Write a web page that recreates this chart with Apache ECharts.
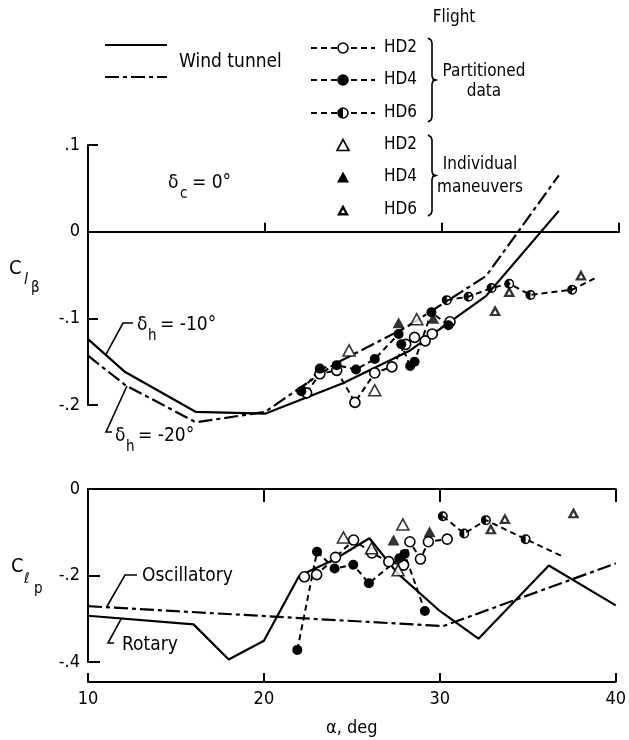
<!DOCTYPE html>
<html>
<head>
<meta charset="utf-8">
<script src="https://cdn.jsdelivr.net/npm/echarts@6/dist/echarts.min.js"></script>
<style>
  html, body { margin: 0; padding: 0; background: #fff; }
  #chart { width: 629px; height: 740px; }
</style>
</head>
<body>
<div id="chart"></div>
<script>
// ---- axes ----
var alphaTicks = [10, 20, 30, 40];
var clbTicks = [-0.2, -0.1, 0, 0.1];
var clbTickLabels = ['-.2', '-.1', '0', '.1'];
var clpTicks = [-0.4, -0.2, 0];
var clpTickLabels = ['-.4', '-.2', '0'];

// ---- wind tunnel, C_l_beta ----
var wtAlphaM10 = [10, 12.1, 16.1, 20, 24.4, 28.2, 32.5, 36.6];
var wtClbM10   = [-0.124, -0.162, -0.208, -0.210, -0.175, -0.137, -0.074, 0.024];
var wtAlphaM20 = [10, 12.1, 16.1, 20, 24, 28, 32.5, 36.6];
var wtClbM20   = [-0.143, -0.177, -0.220, -0.208, -0.152, -0.110, -0.051, 0.065];

// ---- flight, partitioned data, C_l_beta ----
var hd2BetaAlpha = [22.35, 23.1, 24.05, 25.08, 26.2, 27.17, 27.95, 28.45, 29.05, 29.45, 30.45];
var hd2BetaCl    = [-0.186, -0.164, -0.160, -0.197, -0.163, -0.156, -0.130, -0.122, -0.126, -0.118, -0.104];
var hd4BetaAlpha = [22.05, 23.1, 24.05, 25.14, 26.2, 27.55, 27.7, 28.2, 28.45, 29.4, 30.36];
var hd4BetaCl    = [-0.184, -0.158, -0.154, -0.159, -0.147, -0.118, -0.130, -0.155, -0.150, -0.093, -0.108];
var hd6BetaAlpha = [30.27, 31.5, 32.8, 33.8, 35.0, 37.35, 38.8];
var hd6BetaCl    = [-0.079, -0.075, -0.065, -0.060, -0.073, -0.067, -0.052];

// ---- flight, individual maneuvers, C_l_beta ----
var ind2BetaAlpha = [24.75, 26.2, 28.57];
var ind2BetaCl    = [-0.137, -0.183, -0.101];
var ind4BetaAlpha = [27.55, 29.5];
var ind4BetaCl    = [-0.105, -0.100];
var ind6BetaAlpha = [33.0, 33.8, 37.85];
var ind6BetaCl    = [-0.091, -0.069, -0.050];

// ---- wind tunnel, C_l_p ----
var oscAlpha = [10, 30.2, 40];
var oscClp   = [-0.271, -0.317, -0.172];
var rotAlpha = [10, 16, 18, 20, 22, 24, 26, 27.6, 30, 32.2, 36.2, 40];
var rotClp   = [-0.293, -0.313, -0.394, -0.351, -0.201, -0.163, -0.114, -0.195, -0.282, -0.346, -0.177, -0.269];

// ---- flight, partitioned data, C_l_p ----
var hd2PAlpha = [22.3, 23.0, 24.07, 25.1, 26.14, 27.1, 27.94, 28.3, 28.9, 29.35, 30.42];
var hd2PCl    = [-0.203, -0.198, -0.158, -0.118, -0.148, -0.168, -0.176, -0.122, -0.162, -0.122, -0.116];
var hd4PAlpha = [21.9, 23.02, 24.02, 25.08, 25.97, 27.7, 28.0, 29.15];
var hd4PCl    = [-0.372, -0.145, -0.184, -0.175, -0.218, -0.160, -0.150, -0.282];
var hd6PAlpha = [30.17, 31.39, 32.62, 34.88, 37.05];
var hd6PCl    = [-0.063, -0.103, -0.072, -0.116, -0.157];

// ---- flight, individual maneuvers, C_l_p ----
var ind2PAlpha = [24.52, 26.12, 27.63, 27.9];
var ind2PCl    = [-0.112, -0.137, -0.188, -0.082];
var ind4PAlpha = [27.37, 29.42];
var ind4PCl    = [-0.118, -0.099];
var ind6PAlpha = [32.9, 33.7, 37.6];
var ind6PCl    = [-0.092, -0.068, -0.055];

var FONT = '"Liberation Sans Narrow", "DejaVu Sans Condensed", sans-serif';
var FS = 18;
var HALF_CIRCLE = 'path://M10,0 A10,10 0 1,1 10,20 A10,10 0 1,1 10,0 Z M10,17 A7,7 0 0,0 10,3 Z';
var HALF_TRI = 'path://M10,0 L20,18 L0,18 Z M10,8 L6.5,14.5 L13.5,14.5 Z';
var DASH = [6, 4];
var DASHDOT = [14, 4, 4, 4];

function zip(xs, ys, lastBare) {
  return xs.map(function (x, i) {
    if (lastBare && i === xs.length - 1) return { value: [x, ys[i]], symbol: 'none' };
    return [x, ys[i]];
  });
}
function interp(xs, ys, a) {
  for (var i = 0; i < xs.length - 1; i++) {
    if (a >= xs[i] && a <= xs[i + 1]) {
      var t = (a - xs[i]) / (xs[i + 1] - xs[i]);
      return ys[i] + t * (ys[i + 1] - ys[i]);
    }
  }
  return ys[0];
}
function tickLabel(ticks, labels) {
  return function (v) {
    for (var i = 0; i < ticks.length; i++) if (Math.abs(ticks[i] - v) < 1e-6) return labels[i];
    return '';
  };
}

var openC  = { symbol: 'circle', symbolSize: 10, itemStyle: { color: '#fff', borderColor: '#000', borderWidth: 1.6 } };
var fillC  = { symbol: 'circle', symbolSize: 10, itemStyle: { color: '#000', borderWidth: 0 } };
var halfC  = { symbol: HALF_CIRCLE, symbolSize: 10, itemStyle: { color: '#000', borderWidth: 0 } };
var openT  = { symbol: 'triangle', symbolSize: [12, 11], itemStyle: { color: '#fff', borderColor: '#000', borderWidth: 1.6 } };
var fillT  = { symbol: 'triangle', symbolSize: [12, 11], itemStyle: { color: '#000', borderWidth: 0 } };
var halfT  = { symbol: HALF_TRI, symbolSize: [12, 11], itemStyle: { color: '#000', borderWidth: 0 } };

function wtLine(name, xs, ys, type, grid) {
  return {
    name: name, type: 'line', xAxisIndex: grid ? 1 : 0, yAxisIndex: grid,
    data: zip(xs, ys), showSymbol: false, clip: false, silent: true,
    lineStyle: { color: '#000', width: 2.2, type: type }
  };
}
function flightLine(name, xs, ys, mk, grid) {
  var s = {
    name: name, type: 'line', xAxisIndex: grid ? 1 : 0, yAxisIndex: grid,
    data: zip(xs, ys, mk === halfC), clip: false, silent: true, z: 3,
    lineStyle: { color: '#000', width: 2, type: DASH }
  };
  s.symbol = mk.symbol; s.symbolSize = mk.symbolSize; s.itemStyle = mk.itemStyle;
  return s;
}
function indPoints(name, xs, ys, mk, grid) {
  return {
    name: name, type: 'scatter', xAxisIndex: grid ? 1 : 0, yAxisIndex: grid,
    data: zip(xs, ys), clip: false, silent: true, z: 4,
    symbol: mk.symbol, symbolSize: mk.symbolSize, itemStyle: mk.itemStyle
  };
}

var axisText = { color: '#000', fontSize: FS, fontFamily: FONT };
var axisLine = { show: true, onZero: false, lineStyle: { color: '#000', width: 2 } };

var option = {
  animation: false,
  backgroundColor: '#fff',
  grid: [
    { left: 88, right: 10, top: 145, height: 260 },
    { left: 88, right: 10, top: 489, height: 173 }
  ],
  xAxis: [
    { gridIndex: 0, type: 'value', min: 10, max: 40, interval: 10, position: 'bottom',
      axisLine: { show: true, onZero: true, lineStyle: { color: '#000', width: 2 } },
      axisTick: { inside: true, length: 9, lineStyle: { color: '#000', width: 2 } },
      axisLabel: { show: false }, splitLine: { show: false } },
    { gridIndex: 1, type: 'value', min: 10, max: 40, interval: 10, position: 'bottom', offset: 20,
      axisLine: axisLine,
      axisTick: { inside: true, length: 9, lineStyle: { color: '#000', width: 2 } },
      axisLabel: Object.assign({ margin: 8, formatter: function (v) { return alphaTicks.indexOf(v) >= 0 ? String(v) : ''; } }, axisText),
      name: 'α, deg', nameLocation: 'middle', nameGap: 37,
      nameTextStyle: axisText, splitLine: { show: false } },
    { gridIndex: 1, type: 'value', min: 10, max: 40, interval: 10, position: 'top',
      axisLine: axisLine,
      axisTick: { inside: true, length: 13, lineStyle: { color: '#000', width: 2 } },
      axisLabel: { show: false }, splitLine: { show: false } }
  ],
  yAxis: [
    { gridIndex: 0, type: 'value', min: -0.2, max: 0.1, interval: 0.1,
      axisLine: axisLine,
      axisTick: { inside: true, length: 10, lineStyle: { color: '#000', width: 2 } },
      axisLabel: Object.assign({ margin: 8, formatter: tickLabel(clbTicks, clbTickLabels) }, axisText),
      splitLine: { show: false } },
    { gridIndex: 1, type: 'value', min: -0.4, max: 0, interval: 0.2,
      axisLine: axisLine,
      axisTick: { inside: true, length: 12, lineStyle: { color: '#000', width: 2 } },
      axisLabel: Object.assign({ margin: 8, formatter: tickLabel(clpTicks, clpTickLabels) }, axisText),
      splitLine: { show: false } }
  ],
  series: [
    wtLine('δh = -10°', wtAlphaM10, wtClbM10, 'solid', 0),
    wtLine('δh = -20°', wtAlphaM20, wtClbM20, DASHDOT, 0),
    flightLine('HD2', hd2BetaAlpha, hd2BetaCl, openC, 0),
    flightLine('HD4', hd4BetaAlpha, hd4BetaCl, fillC, 0),
    flightLine('HD6', hd6BetaAlpha, hd6BetaCl, halfC, 0),
    indPoints('HD2 ind', ind2BetaAlpha, ind2BetaCl, openT, 0),
    indPoints('HD4 ind', ind4BetaAlpha, ind4BetaCl, fillT, 0),
    indPoints('HD6 ind', ind6BetaAlpha, ind6BetaCl, halfT, 0),
    wtLine('Oscillatory', oscAlpha, oscClp, DASHDOT, 1),
    wtLine('Rotary', rotAlpha, rotClp, 'solid', 1),
    flightLine('HD2 p', hd2PAlpha, hd2PCl, openC, 1),
    flightLine('HD4 p', hd4PAlpha, hd4PCl, fillC, 1),
    flightLine('HD6 p', hd6PAlpha, hd6PCl, halfC, 1),
    indPoints('HD2 ind p', ind2PAlpha, ind2PCl, openT, 1),
    indPoints('HD4 ind p', ind4PAlpha, ind4PCl, fillT, 1),
    indPoints('HD6 ind p', ind6PAlpha, ind6PCl, halfT, 1)
  ]
};

var chart = echarts.init(document.getElementById('chart'), null, { renderer: 'canvas' });
chart.setOption(option);

// ---- text and legend drawn as graphics ----
function txt(s, x, y, o) {
  o = o || {};
  return { type: 'text', x: x, y: y, silent: true, z: 10,
    style: { text: s, fill: '#000', fontSize: o.size || FS, fontFamily: FONT,
      fontStyle: o.italic ? 'italic' : 'normal',
      align: o.align || 'left', verticalAlign: 'middle' } };
}
function seg(x1, y1, x2, y2, dash, w) {
  return { type: 'line', silent: true, z: 10, shape: { x1: x1, y1: y1, x2: x2, y2: y2 },
    style: { stroke: '#000', lineWidth: w || 2.2, lineDash: dash || null } };
}
function poly(pts, w) {
  return { type: 'polyline', silent: true, z: 10, shape: { points: pts },
    style: { stroke: '#000', lineWidth: w || 1.5, fill: null } };
}
function brace(x, y0, y1) {
  var m = (y0 + y1) / 2;
  return poly([[x - 4, y0], [x - 1, y0 + 2], [x, y0 + 5], [x, m - 4], [x + 1, m - 1], [x + 4, m],
               [x + 1, m + 1], [x, m + 4], [x, y1 - 5], [x - 1, y1 - 2], [x - 4, y1]], 1.6);
}
function circ(x, y, fill) {
  return { type: 'circle', silent: true, z: 11, shape: { cx: x, cy: y, r: 5 },
    style: { fill: fill, stroke: '#000', lineWidth: 1.6 } };
}
function halfCirc(x, y) {
  return [circ(x, y, '#fff'),
    { type: 'sector', silent: true, z: 12, shape: { cx: x, cy: y, r: 5, r0: 0, startAngle: Math.PI / 2, endAngle: Math.PI * 1.5 },
      style: { fill: '#000' } }];
}
function tri(x, y, fill, hole) {
  var g = [{ type: 'polygon', silent: true, z: 11, shape: { points: [[x, y - 5.5], [x + 6, y + 5.5], [x - 6, y + 5.5]] },
    style: { fill: fill, stroke: '#000', lineWidth: fill === '#fff' ? 1.6 : 0 } }];
  if (hole) g.push({ type: 'polygon', silent: true, z: 12, shape: { points: [[x, y - 0.5], [x + 2, y + 3], [x - 2, y + 3]] }, style: { fill: '#fff' } });
  return g;
}

var g = [];
var LS = 17;
g.push(txt('Flight', 454, 18, { align: 'center', size: LS }));
g.push(seg(105, 45, 167, 45));
g.push(seg(105, 77, 167, 77, DASHDOT));
g.push(txt('Wind tunnel', 179, 62, { size: 19 }));
var rowsP = [48, 80, 113], names = ['HD2', 'HD4', 'HD6'];
rowsP.forEach(function (y, i) {
  g.push(seg(311, y, 375, y, DASH, 2));
  if (i === 0) g.push(circ(343, y, '#fff'));
  if (i === 1) g.push(circ(343, y, '#000'));
  if (i === 2) g = g.concat(halfCirc(343, y));
  g.push(txt(names[i], 384, y, { size: LS }));
});
g.push(brace(432, 38, 122));
g.push(txt('Partitioned', 484, 72, { align: 'center', size: LS }));
g.push(txt('data', 484, 92, { align: 'center', size: LS }));
var rowsI = [145, 177, 210];
rowsI.forEach(function (y, i) {
  if (i === 0) g = g.concat(tri(343, y, '#fff'));
  if (i === 1) g = g.concat(tri(343, y, '#000'));
  if (i === 2) g = g.concat(tri(343, y, '#000', true));
  g.push(txt(names[i], 384, y, { size: LS }));
});
g.push(brace(432, 135, 216));
g.push(txt('Individual', 480, 165, { align: 'center', size: LS }));
g.push(txt('maneuvers', 480, 188, { align: 'center', size: LS }));

// delta_c = 0 deg
g.push(txt('δ', 168, 183, { size: 19 }));
g.push(txt('c', 180, 194, { size: 15 }));
g.push(txt('= 0°', 192, 183, { size: 19 }));

// y axis titles
g.push(txt('C', 9, 269, { size: 20 }));
g.push(txt('l', 24, 280, { size: 16, italic: true }));
g.push(txt('β', 31, 288, { size: 15 }));
g.push(txt('C', 11, 567, { size: 20 }));
g.push(txt('ℓ', 24, 579, { size: 15 }));
g.push(txt('p', 34, 589, { size: 15 }));

// leaders and curve labels
var p1 = chart.convertToPixel({ seriesIndex: 0 }, [11.0, interp(wtAlphaM10, wtClbM10, 11.0)]);
g.push(poly([p1, [123, 323], [133, 323]], 1.6));
g.push(txt('δ', 137, 325, { size: 19 }));
g.push(txt('h', 148, 336, { size: 15 }));
g.push(txt('= -10°', 160, 325, { size: 19 }));

var p2 = chart.convertToPixel({ seriesIndex: 1 }, [12.2, interp(wtAlphaM20, wtClbM20, 12.2)]);
g.push(poly([p2, [106, 432], [112, 432]], 1.6));
g.push(txt('δ', 115, 436, { size: 19 }));
g.push(txt('h', 126, 447, { size: 15 }));
g.push(txt('= -20°', 138, 436, { size: 19 }));

var p3 = chart.convertToPixel({ seriesIndex: 8 }, [11.05, interp(oscAlpha, oscClp, 11.05)]);
g.push(poly([p3, [125, 575], [137, 575]], 1.6));
g.push(txt('Oscillatory', 142, 576, { size: 19 }));

var p4 = chart.convertToPixel({ seriesIndex: 9 }, [11.9, interp(rotAlpha, rotClp, 11.9)]);
g.push(poly([p4, [108, 643], [114, 643]], 1.6));
g.push(txt('Rotary', 122, 645, { size: 19 }));

chart.setOption({ graphic: g });
</script>
</body>
</html>
